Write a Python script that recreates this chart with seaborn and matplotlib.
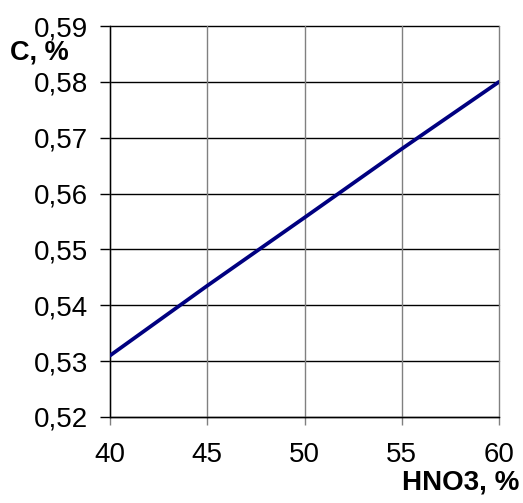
import matplotlib
matplotlib.use('Agg')
import matplotlib.pyplot as plt
import seaborn as sns
import pandas as pd

# dados
hno3 = [40, 45, 50, 55, 60]
carbono = [0.531, 0.5435, 0.5557, 0.568, 0.580]
x_ticks = [40, 45, 50, 55, 60]
y_ticks = [0.52, 0.53, 0.54, 0.55, 0.56, 0.57, 0.58, 0.59]

df = pd.DataFrame({'HNO3': hno3, 'C': carbono})

sns.set_style('white')
plt.rcParams['font.family'] = ['Liberation Sans', 'DejaVu Sans']
plt.rcParams['text.color'] = 'black'

fig = plt.figure(figsize=(5.23, 5.03), dpi=100)
ax = fig.add_axes([110 / 523, 1 - 417 / 503, (499 - 110) / 523, (417 - 26) / 503])

sns.lineplot(data=df, x='HNO3', y='C', ax=ax, color='#000080', linewidth=2.7, zorder=3)

ax.set_xlim(40, 60)
ax.set_ylim(0.52, 0.59)
ax.set_xticks(x_ticks)
ax.set_yticks(y_ticks)
ax.set_yticklabels([f'{v:.2f}'.replace('.', ',') for v in y_ticks])
ax.set_xticklabels([str(v) for v in x_ticks])

# grade: horizontais pretas, verticais cinza
for v in y_ticks:
    ax.axhline(v, color='black', linewidth=1.0, zorder=1, clip_on=False)
for v in x_ticks:
    ax.axvline(v, color='#808080', linewidth=1.0, zorder=1, clip_on=False)

for s in ['top', 'right']:
    ax.spines[s].set_visible(False)
ax.spines['left'].set_color('black')
ax.spines['bottom'].set_color('black')
ax.spines['left'].set_linewidth(1.0)
ax.spines['bottom'].set_linewidth(1.0)

ax.tick_params(axis='y', length=7, width=1.0, color='black', pad=9, labelsize=20, labelcolor='black', left=True)
ax.tick_params(axis='x', length=6, width=1.0, color='#808080', pad=12, labelsize=20, labelcolor='black', bottom=True)

ax.set_xlabel('')
ax.set_ylabel('')
fig.text(10 / 523, 1 - 60 / 503, 'C, %', fontsize=19.5, fontweight='bold', ha='left', va='baseline', color='black')
fig.text(519 / 523, 1 - 482 / 503, 'HNO3, %', fontsize=20, fontweight='bold', ha='right', va='center', color='black')

fig.savefig('out.png', dpi=100)
